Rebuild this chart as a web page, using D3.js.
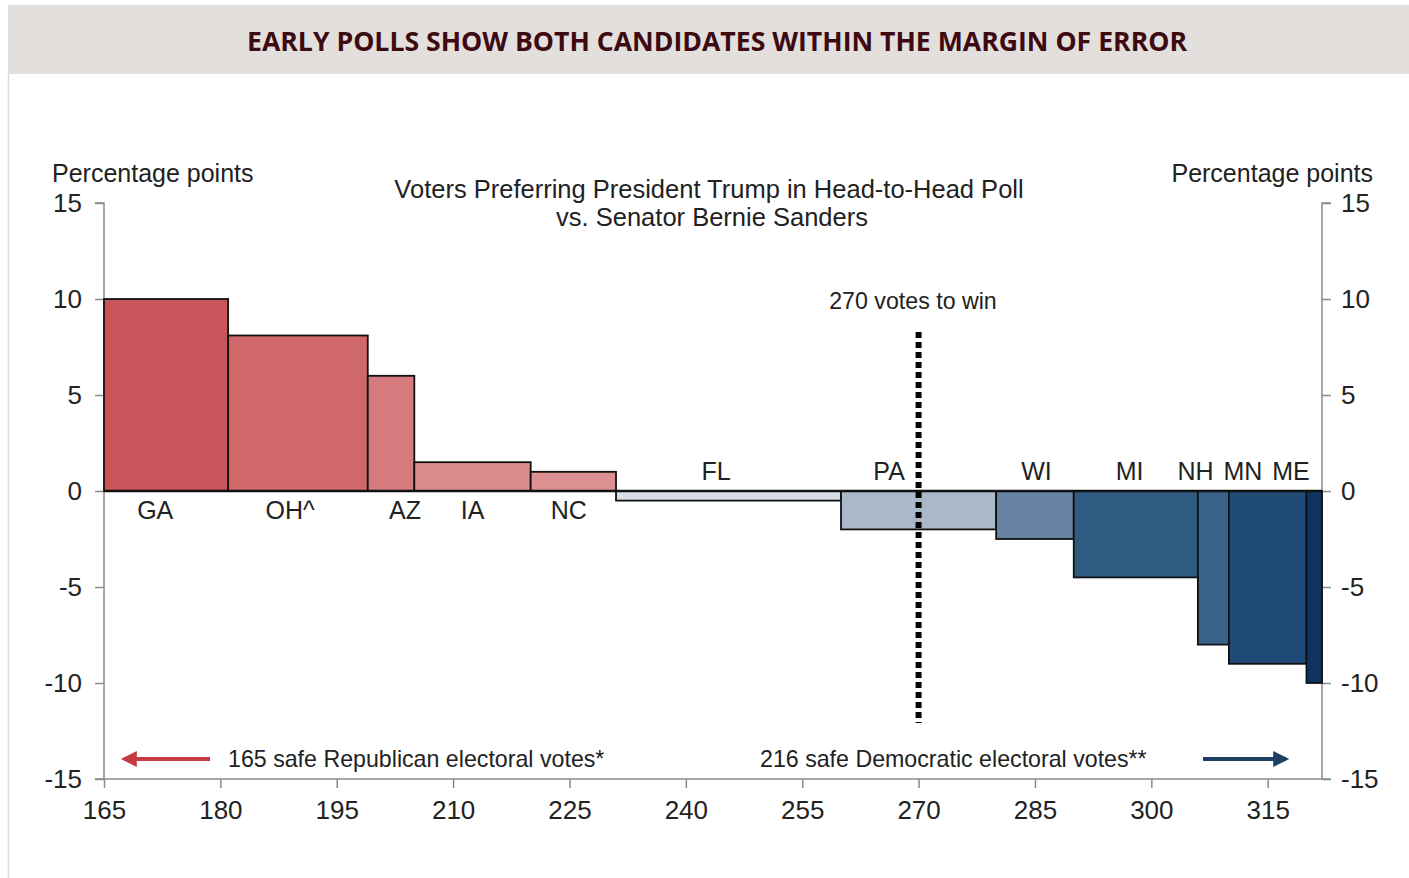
<!DOCTYPE html>
<html>
<head>
<meta charset="utf-8">
<script src="https://cdn.jsdelivr.net/npm/d3@7"></script>
<style>
  html, body { margin: 0; padding: 0; background: #fff; }
  svg { display: block; }
</style>
</head>
<body>
<svg id="chart" width="1409" height="878"></svg>
<script>
// Electoral-vote span and poll margin (Trump minus Sanders) for each battleground state
const states   = ["GA", "OH^", "AZ", "IA", "NC", "FL", "PA", "WI", "MI", "NH", "MN", "ME"];
const evStart  = [165, 181, 199, 205, 220, 231, 260, 280, 290, 306, 310, 320];
const evEnd    = [181, 199, 205, 220, 231, 260, 280, 290, 306, 310, 320, 322];
const margins  = [10, 8.1, 6, 1.5, 1, -0.5, -2, -2.5, -4.5, -8, -9, -10];
const fills    = ["#c9545a", "#d0686a", "#d57b7e", "#db8c8e", "#dc9092", "#d9dee6",
                  "#a9b9ca", "#6684a1", "#2f5a81", "#3a6289", "#1f4a75", "#0e3560"];
// Label anchor positions along the electoral-vote axis
const labelEV  = [171.6, 189, 203.8, 212.5, 224.9, 243.9, 266.2, 285.2, 297.2, 305.7, 311.8, 318];
const xTicks   = [165, 180, 195, 210, 225, 240, 255, 270, 285, 300, 315];
const yTicks   = [15, 10, 5, 0, -5, -10, -15];
const winLine  = 270;

const svg = d3.select("#chart");
const font = "'Liberation Sans', Arial, sans-serif";

// Header band
svg.append("rect").attr("x", 8).attr("y", 5).attr("width", 1401).attr("height", 69).attr("fill", "#e2dfdc");
svg.append("line").attr("x1", 8.5).attr("x2", 8.5).attr("y1", 74).attr("y2", 878)
  .attr("stroke", "#dcd9d6").attr("stroke-width", 1.5);
svg.append("text")
  .attr("x", 717).attr("y", 51).attr("text-anchor", "middle")
  .attr("font-family", "'Open Sans', sans-serif").attr("font-weight", 700).attr("font-size", 27)
  .attr("fill", "#3d0a12")
  .attr("textLength", 940).attr("lengthAdjust", "spacingAndGlyphs")
  .text("EARLY POLLS SHOW BOTH CANDIDATES WITHIN THE MARGIN OF ERROR");

const x = d3.scaleLinear().domain([165, 322]).range([104, 1322]);
const y = d3.scaleLinear().domain([-15, 15]).range([779, 203]);

const axisColor = "#8a8a8a";
const tickFont = 26;
const fmt = d => String(d);

// Left axis
const gL = svg.append("g").attr("transform", "translate(104,0)")
  .call(d3.axisLeft(y).tickValues(yTicks).tickSize(9).tickPadding(13).tickFormat(fmt));
// Right axis
const gR = svg.append("g").attr("transform", "translate(1322,0)")
  .call(d3.axisRight(y).tickValues(yTicks).tickSize(9).tickPadding(10).tickFormat(fmt));
// Bottom axis
const gB = svg.append("g").attr("transform", "translate(0,779)")
  .call(d3.axisBottom(x).tickValues(xTicks).tickSize(9).tickPadding(13).tickFormat(fmt));

[gL, gR, gB].forEach(g => {
  g.select(".domain").attr("stroke", axisColor).attr("stroke-width", 1.5);
  g.selectAll(".tick line").attr("stroke", axisColor).attr("stroke-width", 1.5);
  g.selectAll(".tick text").attr("font-family", font).attr("font-size", tickFont)
    .attr("fill", "#222");
});
gB.select(".domain").attr("d", `M${x(165)},0H${x(322)}`);
gL.select(".domain").attr("d", `M-9,${y(15)}H0V${y(-15)}H-9`);
gR.select(".domain").attr("d", `M9,${y(15)}H0V${y(-15)}H9`);

// Axis titles
svg.append("text").attr("x", 52).attr("y", 182).attr("font-family", font).attr("font-size", 25)
  .attr("fill", "#222").text("Percentage points");
svg.append("text").attr("x", 1373).attr("y", 182).attr("text-anchor", "end").attr("font-family", font)
  .attr("font-size", 25).attr("fill", "#222").text("Percentage points");

// Chart subtitle
const sub = svg.append("text").attr("text-anchor", "middle").attr("font-family", font)
  .attr("font-size", 25.5).attr("fill", "#222");
sub.append("tspan").attr("x", 709).attr("y", 198).text("Voters Preferring President Trump in Head-to-Head Poll");
sub.append("tspan").attr("x", 712).attr("y", 226).text("vs. Senator Bernie Sanders");

// Bars
const data = states.map((s, i) => ({ s, a: evStart[i], b: evEnd[i], v: margins[i], c: fills[i], l: labelEV[i] }));
svg.append("g").selectAll("rect").data(data).join("rect")
  .attr("x", d => x(d.a))
  .attr("width", d => x(d.b) - x(d.a))
  .attr("y", d => Math.min(y(d.v), y(0)))
  .attr("height", d => Math.abs(y(d.v) - y(0)))
  .attr("fill", d => d.c)
  .attr("stroke", "#111").attr("stroke-width", 1.8);

// Zero line
svg.append("line").attr("x1", x(165)).attr("x2", x(322)).attr("y1", y(0)).attr("y2", y(0))
  .attr("stroke", "#111").attr("stroke-width", 2.5);

// State labels: below for Republican-leaning, above for Democratic-leaning
svg.append("g").selectAll("text").data(data).join("text")
  .attr("x", d => x(d.l))
  .attr("y", d => d.v > 0 ? y(0) + 28 : y(0) - 11)
  .attr("text-anchor", "middle")
  .attr("font-family", font).attr("font-size", 25).attr("fill", "#222")
  .text(d => d.s);

// 270 to win marker
svg.append("line").attr("x1", x(winLine)).attr("x2", x(winLine)).attr("y1", 332).attr("y2", 723)
  .attr("stroke", "#000").attr("stroke-width", 6).attr("stroke-dasharray", "6,4");
svg.append("text").attr("x", 913).attr("y", 309).attr("text-anchor", "middle").attr("font-family", font)
  .attr("font-size", 23.2).attr("fill", "#222").text("270 votes to win");

// Safe-vote arrows
const defs = svg.append("defs");
function arrowHead(id, color) {
  defs.append("marker").attr("id", id).attr("viewBox", "0 0 10 10").attr("refX", 8).attr("refY", 5)
    .attr("markerWidth", 4.5).attr("markerHeight", 4).attr("orient", "auto").attr("markerUnits", "strokeWidth")
    .append("path").attr("d", "M0,0L10,5L0,10Z").attr("fill", color);
}
arrowHead("arrR", "#c63b41");
arrowHead("arrB", "#1d3f63");
svg.append("line").attr("x1", 210).attr("x2", 124).attr("y1", 759).attr("y2", 759)
  .attr("stroke", "#c63b41").attr("stroke-width", 4).attr("marker-end", "url(#arrR)");
svg.append("line").attr("x1", 1203).attr("x2", 1286).attr("y1", 759).attr("y2", 759)
  .attr("stroke", "#1d3f63").attr("stroke-width", 4).attr("marker-end", "url(#arrB)");
svg.append("text").attr("x", 228).attr("y", 767).attr("font-family", font).attr("font-size", 23.2)
  .attr("fill", "#222").text("165 safe Republican electoral votes*");
svg.append("text").attr("x", 760).attr("y", 767).attr("font-family", font).attr("font-size", 23.2)
  .attr("fill", "#222").text("216 safe Democratic electoral votes**");
</script>
</body>
</html>
